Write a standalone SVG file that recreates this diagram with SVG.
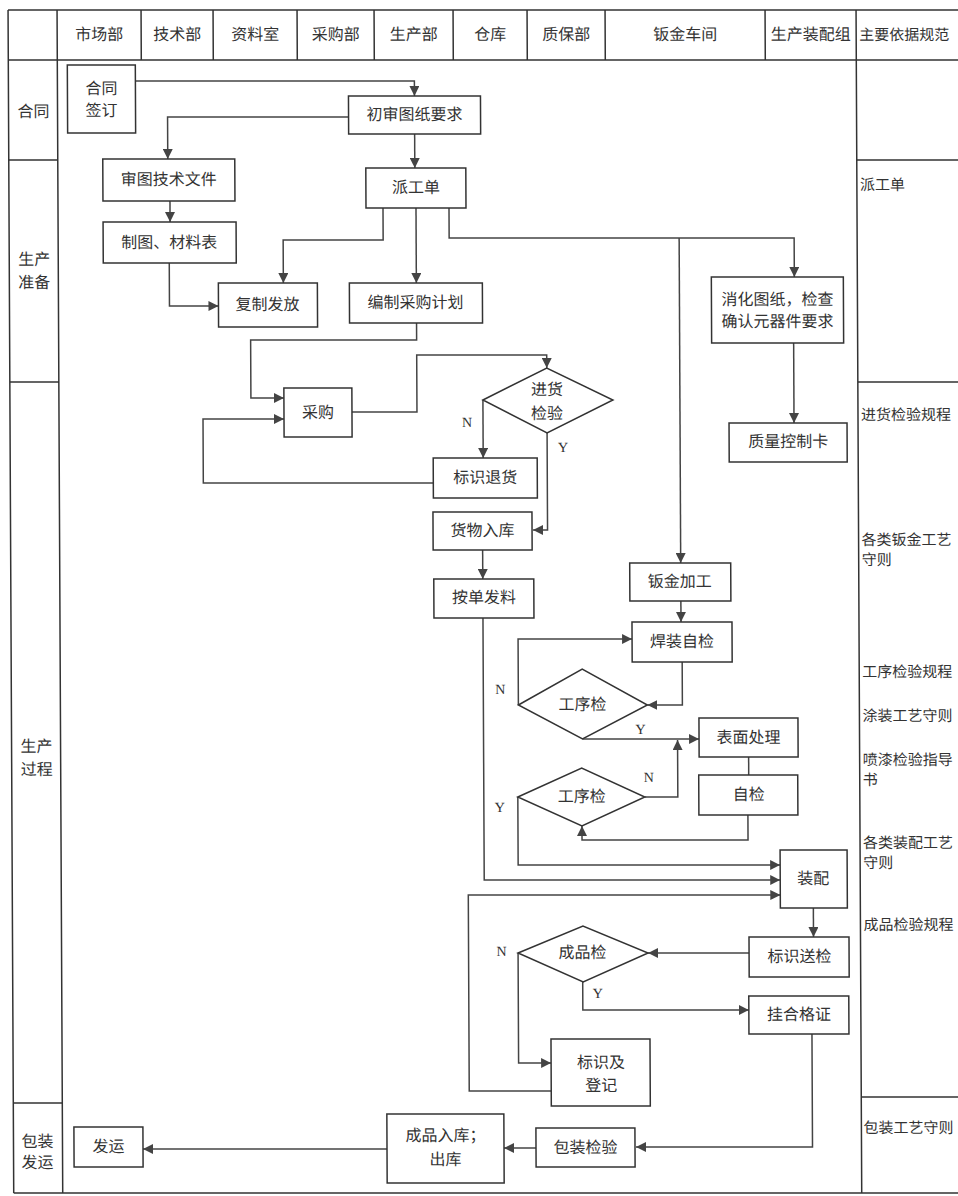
<svg xmlns="http://www.w3.org/2000/svg" width="958" height="1196" viewBox="0 0 958 1196">
<defs>
<style>
.grid{fill:none;stroke:#333;stroke-width:1.5}
.box{fill:#fff;stroke:#333;stroke-width:1.5}
.ln{fill:none;stroke:#444;stroke-width:1.5}
.arr{marker-end:url(#ah)}
text{font-family:'Liberation Serif','Noto Sans CJK SC',serif;font-size:16px;fill:#333;dominant-baseline:central}
.c{text-anchor:middle}
.l{text-anchor:start;font-size:15px}
.yn{font-size:14px;text-anchor:middle}
</style>
<marker id="ah" markerWidth="10" markerHeight="10" refX="10" refY="5" orient="auto" markerUnits="userSpaceOnUse">
<path d="M0,0 L10,5 L0,10 z" fill="#444"/>
</marker>
</defs>
<rect width="958" height="1196" fill="#fff"/>
<g transform="skewX(0.275)">
<g id="table">
<path class="grid" d="M8,10 H1000 M8,60 H1000 M8,1193 H1000 M8,10 V1193 M57,10 V1193 M856,10 V1193 M8,160 H57 M8,382 H57 M8,1103 H57 M856,160 H1000 M856,382 H1000 M856,1097 H1000 M141,10 V60 M213,10 V60 M297,10 V60 M374,10 V60 M453,10 V60 M527,10 V60 M605,10 V60 M765,10 V60"/>
<text class="c" x="99" y="35">市场部</text>
<text class="c" x="177" y="35">技术部</text>
<text class="c" x="255" y="35">资料室</text>
<text class="c" x="335.5" y="35">采购部</text>
<text class="c" x="413.5" y="35">生产部</text>
<text class="c" x="490" y="35">仓库</text>
<text class="c" x="566" y="35">质保部</text>
<text class="c" x="685" y="35">钣金车间</text>
<text class="c" x="810.5" y="35">生产装配组</text>
<text class="l" x="859" y="35">主要依据规范</text>
<text class="c" x="33" y="112">合同</text>
<text class="c" x="33" y="260">生产</text>
<text class="c" x="33" y="283">准备</text>
<text class="c" x="33" y="747">生产</text>
<text class="c" x="33" y="770">过程</text>
<text class="c" x="32" y="1142">包装</text>
<text class="c" x="32" y="1163">发运</text>
<text class="l" x="859" y="185">派工单</text>
<text class="l" x="859" y="415">进货检验规程</text>
<text class="l" x="859" y="540">各类钣金工艺</text>
<text class="l" x="859" y="560">守则</text>
<text class="l" x="859" y="672">工序检验规程</text>
<text class="l" x="859" y="716">涂装工艺守则</text>
<text class="l" x="859" y="760">喷漆检验指导</text>
<text class="l" x="859" y="780">书</text>
<text class="l" x="859" y="843">各类装配工艺</text>
<text class="l" x="859" y="863">守则</text>
<text class="l" x="859" y="925">成品检验规程</text>
<text class="l" x="858" y="1128">包装工艺守则</text>
</g>
<g id="connectors">
<path class="ln arr" d="M135,81 H414 V96"/>
<path class="ln arr" d="M348,117 H167 V159"/>
<path class="ln arr" d="M414,134 V168"/>
<path class="ln arr" d="M169,201 V222"/>
<path class="ln arr" d="M168,263 V306 H217"/>
<path class="ln arr" d="M382,208 V240 H282 V283"/>
<path class="ln arr" d="M415,208 V283"/>
<path class="ln arr" d="M448,208 V238 H793 V277"/>
<path class="ln arr" d="M678,238 V563"/>
<path class="ln arr" d="M792,343 V423"/>
<path class="ln arr" d="M415,323 V340 H249 V398 H282"/>
<path class="ln arr" d="M350,412 H415 V355 H545 V368"/>
<path class="ln arr" d="M481,400 V458"/>
<path class="ln arr" d="M545,433 V530 H530.5"/>
<path class="ln arr" d="M431,483 H201 V419 H282"/>
<path class="ln arr" d="M480,550 V579"/>
<path class="ln arr" d="M480,618 V880 H776"/>
<path class="ln arr" d="M678,601 V622"/>
<path class="ln arr" d="M679,662 V705 H644"/>
<path class="ln arr" d="M515,705 V639 H629"/>
<path class="ln arr" d="M579,739 H695.5"/>
<path class="ln" d="M745,757 V775"/>
<path class="ln arr" d="M744,815 V840 H578 V826"/>
<path class="ln arr" d="M641,797 H674 V740"/>
<path class="ln arr" d="M514,797 V865 H776"/>
<path class="ln arr" d="M546,1091 H464 V895 H776"/>
<path class="ln arr" d="M809,908 V937"/>
<path class="ln arr" d="M744.5,953 H643.5"/>
<path class="ln arr" d="M578,982 V1010 H744"/>
<path class="ln arr" d="M513.5,953 V1063 H546"/>
<path class="ln arr" d="M807,1034 V1147 H630.5"/>
<path class="ln arr" d="M530.5,1148 H498.5"/>
<path class="ln arr" d="M381.5,1149 H137.5"/>
<text class="yn" x="465" y="423">N</text>
<text class="yn" x="561" y="448">Y</text>
<text class="yn" x="497" y="690">N</text>
<text class="yn" x="637" y="730">Y</text>
<text class="yn" x="645" y="778">N</text>
<text class="yn" x="496" y="808">Y</text>
<text class="yn" x="497" y="952">N</text>
<text class="yn" x="593" y="994">Y</text>
</g>
<g id="n-hetong"><rect class="box" x="67" y="65" width="68" height="68"/><text class="c" x="101" y="89">合同</text><text class="c" x="101" y="111">签订</text></g>
<g id="n-chushen"><rect class="box" x="348" y="96" width="132" height="38"/><text class="c" x="414" y="115">初审图纸要求</text></g>
<g id="n-shentu"><rect class="box" x="102" y="159" width="132" height="42"/><text class="c" x="168" y="180">审图技术文件</text></g>
<g id="n-zhitu"><rect class="box" x="102" y="222" width="133" height="41"/><text class="c" x="168" y="243">制图、材料表</text></g>
<g id="n-paigong"><rect class="box" x="365" y="168" width="100" height="40"/><text class="c" x="415" y="188">派工单</text></g>
<g id="n-fuzhi"><rect class="box" x="217" y="283" width="99" height="44"/><text class="c" x="266" y="305">复制发放</text></g>
<g id="n-bianzhi"><rect class="box" x="348" y="283" width="133" height="40"/><text class="c" x="414" y="303">编制采购计划</text></g>
<g id="n-xiaohua"><rect class="box" x="710" y="277" width="132" height="66"/><text class="c" x="776" y="300">消化图纸，检查</text><text class="c" x="776" y="322">确认元器件要求</text></g>
<g id="n-zhiliang"><rect class="box" x="727" y="423" width="118" height="39"/><text class="c" x="786" y="442">质量控制卡</text></g>
<g id="n-caigou"><rect class="box" x="282" y="388" width="68" height="49"/><text class="c" x="316" y="413">采购</text></g>
<g id="n-jinhuo"><polygon class="box" points="481,400 545,368 611,400 545,433"/><text class="c" x="545" y="390">进货</text><text class="c" x="545" y="414">检验</text></g>
<g id="n-tuihuo"><rect class="box" x="431" y="458" width="104" height="40"/><text class="c" x="483" y="478">标识退货</text></g>
<g id="n-ruku"><rect class="box" x="430.5" y="512" width="99" height="38"/><text class="c" x="480" y="531">货物入库</text></g>
<g id="n-fali"><rect class="box" x="431" y="579" width="100" height="39"/><text class="c" x="481" y="598">按单发料</text></g>
<g id="n-banjin"><rect class="box" x="627" y="563" width="101" height="38"/><text class="c" x="677" y="582">钣金加工</text></g>
<g id="n-hanzhuang"><rect class="box" x="629" y="622" width="100" height="40"/><text class="c" x="679" y="642">焊装自检</text></g>
<g id="n-gongxu1"><polygon class="box" points="515,705 579,669 644,705 579,739"/><text class="c" x="579" y="705">工序检</text></g>
<g id="n-biaomian"><rect class="box" x="695.5" y="718" width="99" height="39"/><text class="c" x="745" y="738">表面处理</text></g>
<g id="n-zijian"><rect class="box" x="695" y="775" width="99" height="40"/><text class="c" x="745" y="795">自检</text></g>
<g id="n-gongxu2"><polygon class="box" points="514,797 578,768 641,797 578,826"/><text class="c" x="578" y="797">工序检</text></g>
<g id="n-zhuangpei"><rect class="box" x="776" y="850" width="67" height="58"/><text class="c" x="809" y="879">装配</text></g>
<g id="n-songjian"><rect class="box" x="744.5" y="937" width="100" height="40"/><text class="c" x="795" y="957">标识送检</text></g>
<g id="n-chengpin"><polygon class="box" points="513.5,953 578.5,926 643.5,953 578.5,982"/><text class="c" x="578" y="953">成品检</text></g>
<g id="n-hege"><rect class="box" x="744" y="996" width="100" height="38"/><text class="c" x="794" y="1015">挂合格证</text></g>
<g id="n-dengji"><rect class="box" x="546" y="1039" width="99" height="67"/><text class="c" x="596" y="1063">标识及</text><text class="c" x="596" y="1086">登记</text></g>
<g id="n-baozhuang"><rect class="box" x="530.5" y="1128" width="99" height="39"/><text class="c" x="580" y="1148">包装检验</text></g>
<g id="n-chengpinruku"><rect class="box" x="381.5" y="1114" width="117" height="69"/><text class="c" x="440" y="1136">成品入库；</text><text class="c" x="440" y="1160">出库</text></g>
<g id="n-fayun"><rect class="box" x="68.5" y="1127" width="69" height="40"/><text class="c" x="103" y="1147">发运</text></g>
</g>
</svg>
